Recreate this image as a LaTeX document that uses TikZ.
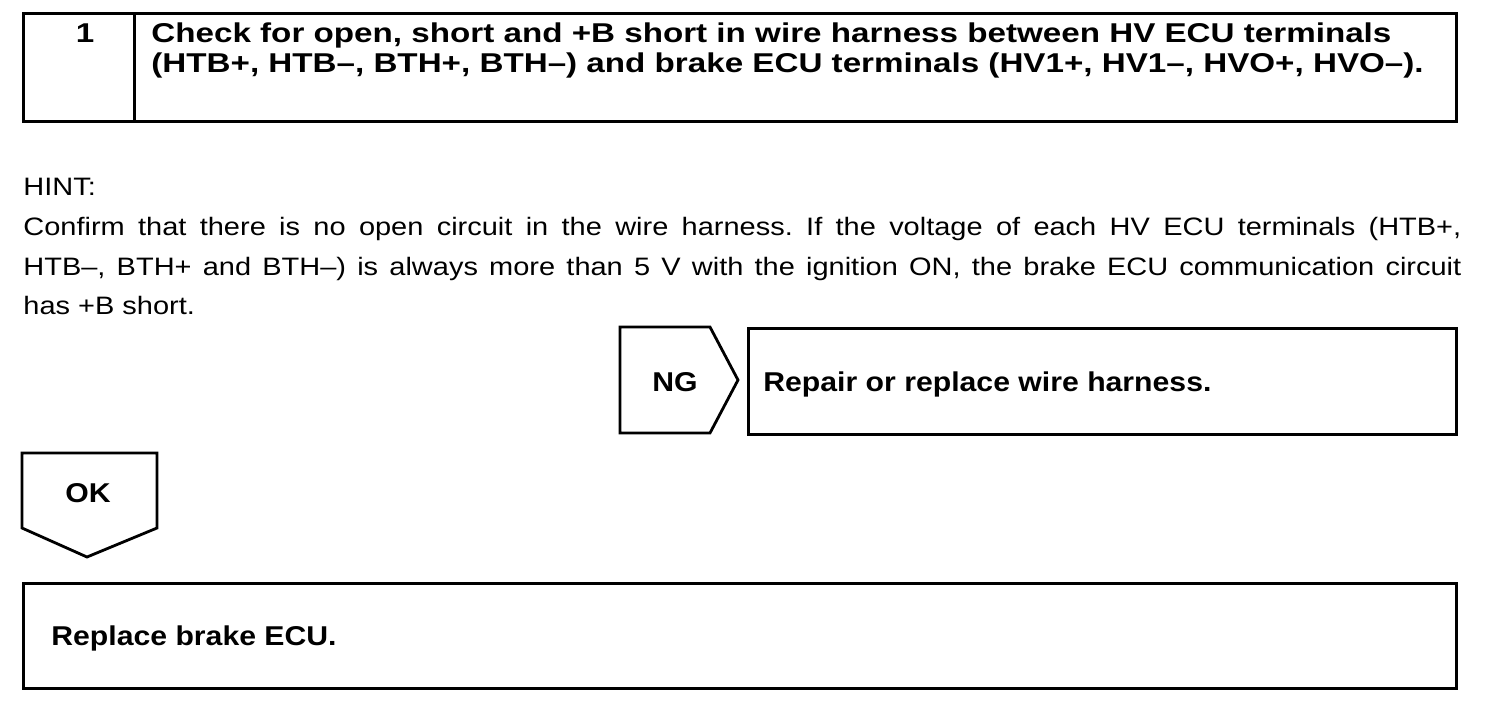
\documentclass[tikz,border=0pt]{standalone}
\usepackage{fontspec}
\setmainfont{Liberation Sans}
\newfontfamily\titlefont{Liberation Sans}[FakeStretch=1.22]
\newfontfamily\labelfont{Liberation Sans}[FakeStretch=1.11]
\newfontfamily\bodyfont{Liberation Sans}[FakeStretch=1.15]
\frenchspacing
\begin{document}
\begin{tikzpicture}[x=0.5pt,y=-0.5pt, line width=1.4pt,
  box/.style={draw, line width=1.4pt, inner sep=0pt, anchor=north west},
  txt/.style={inner sep=0pt, anchor=base west},
  ctxt/.style={inner sep=0pt, anchor=base},
  ttl/.style={font=\fontsize{13.6}{16}\selectfont\titlefont\bfseries},
  bold/.style={font=\fontsize{13.6}{16}\selectfont\labelfont\bfseries},
  body/.style={font=\fontsize{12.6}{20}\selectfont\bodyfont},
  tag/.style={draw, line width=1.4pt, line join=miter}]
\useasboundingbox (0,0) rectangle (1504,714);
% step header
\node[box, minimum width=55.5pt, minimum height=54pt] (numcell) at (22,12) {};
\node[box, minimum width=661pt, minimum height=54pt] (titlecell) at (133,12) {};
\node[ctxt,ttl] (num) at (85,42) {1};
\node[txt,ttl] (t1) at (150,42) {Check for open, short and +B short in wire harness between HV ECU terminals};
\node[txt,ttl] (t2) at (150,72) {(HTB+, HTB–, BTH+, BTH–) and brake ECU terminals (HV1+, HV1–, HVO+, HVO–).};
% hint
\node[txt,body] (hint) at (22,195) {HINT:};
\node[txt,body] (p1) at (22,235) {\makebox[719pt][s]{Confirm that there is no open circuit in the wire harness. If the voltage of each HV ECU terminals (HTB+,}};
\node[txt,body] (p2) at (22,275) {\makebox[719pt][s]{HTB–, BTH+ and BTH–) is always more than 5 V with the ignition ON, the brake ECU communication circuit}};
\node[txt,body] (p3) at (22,314) {has +B short.};
% NG branch
\draw[tag] (620,327) -- (710,327) -- (738,380) -- (710,433) -- (620,433) -- cycle;
\node[ctxt,bold] (ng) at (675,391) {NG};
\node[box, minimum width=354pt, minimum height=53pt] (repairbox) at (747,327) {};
\node[txt,bold] (repair) at (762,391) {Repair or replace wire harness.};
% OK branch
\draw[tag] (22,453) -- (157,453) -- (157,528) -- (87,557) -- (22,528) -- cycle;
\node[ctxt,bold] (ok) at (88,502) {OK};
\node[box, minimum width=716.5pt, minimum height=52.5pt] (replacebox) at (22,582) {};
\node[txt,bold] (replace) at (50,645) {Replace brake ECU.};
\end{tikzpicture}
\end{document}
